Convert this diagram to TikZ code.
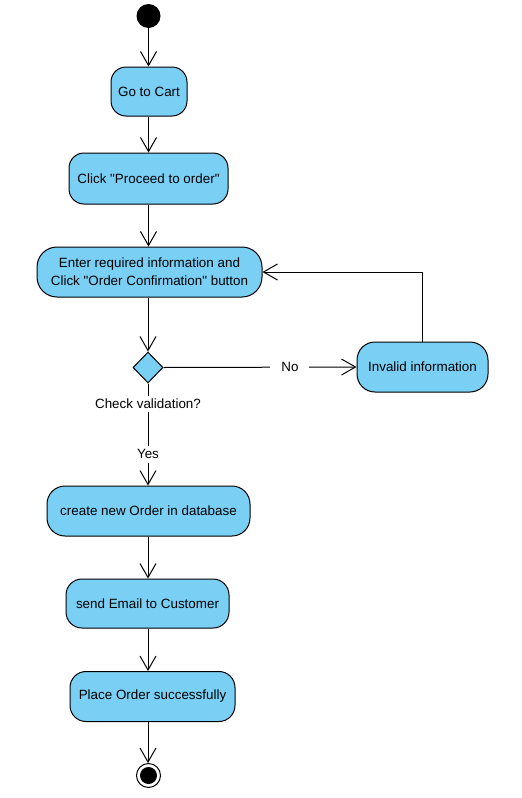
\documentclass[tikz,border=0pt]{standalone}
\usepackage{fontspec}
\setmainfont{Liberation Sans}
\usetikzlibrary{arrows.meta,shapes.geometric}
\definecolor{actfill}{HTML}{7ACFF5}
\tikzset{
  act/.style={draw=black, fill=actfill, rounded corners=15pt, line width=1pt,
    inner sep=0pt, align=center, font=\fontsize{13.4}{18.3}\selectfont},
  flow/.style={draw=black, line width=1pt,
    -{Straight Barb[length=14pt,width=16pt,line width=1pt]}},
  lbl/.style={fill=white, inner xsep=2pt, inner ysep=2pt, font=\fontsize{13.4}{16}\selectfont},
}
\begin{document}
\begin{tikzpicture}[x=1pt,y=-1pt]
\useasboundingbox[fill=white] (0,0) rectangle (522,798);
% nodes
\node[circle, fill=black, minimum size=24pt, inner sep=0pt] (start) at (148.5,16) {};
\node[act, minimum width=76pt, minimum height=49pt] (cart) at (149,91.5) {Go to Cart};
\node[act, minimum width=159pt, minimum height=51pt] (proc) at (148.5,178.5) {Click \textquotedbl Proceed to order\textquotedbl};
\node[act, minimum width=225pt, minimum height=50pt, rounded corners=20pt] (enter) at (149.5,272) {Enter required information and\\Click \textquotedbl Order Confirmation\textquotedbl\ button};
\node[diamond, draw=black, fill=actfill, line width=1pt, minimum width=30pt, minimum height=31pt, inner sep=0pt] (dec) at (148,367.5) {};
\node[act, minimum width=131pt, minimum height=50pt, rounded corners=18pt] (inv) at (422.5,367) {Invalid information};
\node[act, minimum width=203pt, minimum height=50pt, rounded corners=18pt] (create) at (148.5,511) {create new Order in database};
\node[act, minimum width=163pt, minimum height=49pt, rounded corners=16pt] (email) at (147.5,603.5) {send Email to Customer};
\node[act, minimum width=165pt, minimum height=50pt, rounded corners=16pt] (place) at (152.5,696.5) {Place Order successfully};
\node[circle, draw=black, line width=1pt, fill=white, minimum size=24pt, inner sep=0pt] (end) at (148.5,775.5) {};
\node[circle, fill=black, minimum size=17pt, inner sep=0pt] (endin) at (end.center) {};
% connectors
\draw[flow] (start) -- (start |- cart.north);
\draw[flow] (cart.south -| start) -- (proc.north -| start);
\draw[flow] (proc.south -| start) -- (enter.north -| start);
\draw[flow] (enter.south -| dec) -- (dec.north);
\draw[flow] (dec.east) -- node[lbl, pos=0.655, inner xsep=11pt] (no) {No} (inv.west);
\draw[flow] (inv.north -| 422,0) |- (enter.east);
\draw[flow] (dec.south) -- node[lbl, pos=0.2, inner ysep=3pt] (chk) {Check validation?} node[lbl, pos=0.695, inner ysep=4pt] (yes) {Yes} (create.north -| dec);
\draw[flow] (create.south -| dec) -- (email.north -| dec);
\draw[flow] (email.south -| dec) -- (place.north -| dec);
\draw[flow] (place.south -| dec) -- (end.north -| dec);
\end{tikzpicture}
\end{document}
